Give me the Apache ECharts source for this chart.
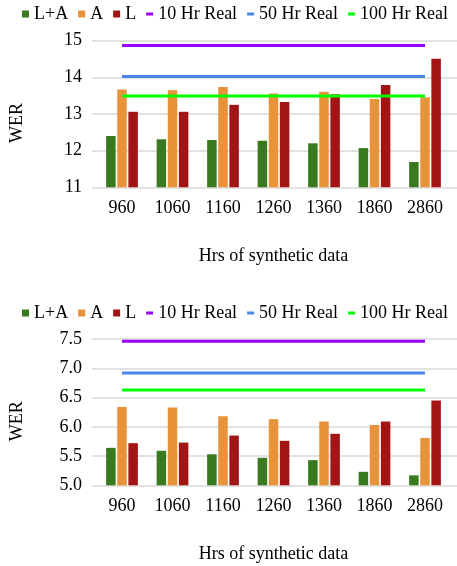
<!DOCTYPE html>
<html><head><meta charset="utf-8">
<script src="https://cdn.jsdelivr.net/npm/echarts@6/dist/echarts.min.js"></script>
<style>html,body{margin:0;padding:0;background:#fff}#c{width:457px;height:566px}</style>
</head><body><div id="c"></div>
<script>
const categories = ['960','1060','1160','1260','1360','1860','2860'];
// Top chart
const topLA = [12.40,12.31,12.29,12.27,12.20,12.07,11.69];
const topA  = [13.67,13.65,13.74,13.56,13.61,13.41,13.46];
const topL  = [13.06,13.06,13.25,13.33,13.54,13.79,14.51];
const top10 = 14.87, top50 = 14.02, top100 = 13.49;
const topTicks = [11,12,13,14,15];
// Bottom chart
const botLA = [5.64,5.59,5.53,5.47,5.43,5.23,5.17];
const botA  = [6.34,6.33,6.18,6.13,6.09,6.03,5.81];
const botL  = [5.72,5.73,5.85,5.76,5.88,6.09,6.45];
const bot10 = 7.46, bot50 = 6.92, bot100 = 6.63;
const botTicks = ['5.0','5.5','6.0','6.5','7.0','7.5'];

const FONT = 'Liberation Serif';
const C = {LA:'#3a7a1e', A:'#e8923a', L:'#a31515', r10:'#9b00ff', r50:'#4a86e8', r100:'#00ff00'};
const lineIcon = 'path://M0,2 L7,2 L7,5 L0,5 Z M0,0 L0,0 M0,7 L0,7';

function legendFor(top) {
  return {
    top: top, left: 17, itemWidth: 7, itemHeight: 7, itemGap: 10,
    textStyle: {fontFamily: FONT, fontSize: 18, color: '#000'},
    data: [
      {name:'L+A', icon:'rect'}, {name:'A', icon:'rect'}, {name:'L', icon:'rect'},
      {name:'10 Hr Real', icon: lineIcon}, {name:'50 Hr Real', icon: lineIcon}, {name:'100 Hr Real', icon: lineIcon}
    ]
  };
}

const layouts = [
  {top: 40.7, height: 146.6, ticks: topTicks.map(Number), fmt: v => String(v)},
  {top: 339, height: 146.3, ticks: botTicks.map(Number), fmt: v => v.toFixed(1)}
];

const grids = [], xAxes = [], yAxes = [], series = [];
layouts.forEach((L, i) => {
  const tk = L.ticks;
  grids.push({left: 89, right: 0, top: L.top, height: L.height});
  grids.push({left: 96.75, width: 353.5, top: L.top, height: L.height});
  xAxes.push({gridIndex: 2*i, type: 'value', show: false, min: 0, max: 1});
  xAxes.push({gridIndex: 2*i+1, type: 'category', data: categories,
    axisLine: {show: false}, axisTick: {show: false},
    axisLabel: {fontFamily: FONT, fontSize: 18, color: '#000', margin: 12},
    name: 'Hrs of synthetic data', nameLocation: 'middle', nameGap: 60,
    nameTextStyle: {fontFamily: FONT, fontSize: 18, color: '#000'}});
  yAxes.push({gridIndex: 2*i, type: 'value', min: tk[0], max: tk[tk.length-1], interval: tk[1]-tk[0],
    axisLine: {show: false}, axisTick: {show: false},
    axisLabel: {fontFamily: FONT, fontSize: 18, color: '#000', margin: 10, formatter: L.fmt},
    splitLine: {lineStyle: {color: '#d9d9d9', width: 1.5}},
    name: 'WER', nameLocation: 'middle', nameGap: 66, nameRotate: 90,
    nameTextStyle: {fontFamily: FONT, fontSize: 18, color: '#000', padding: [0, 18, 0, 0]}});
  yAxes.push({gridIndex: 2*i+1, type: 'value', min: tk[0], max: tk[tk.length-1], interval: tk[1]-tk[0], show: false, splitLine: {show: false}});
});

const sets = [
  {LA: topLA, A: topA, L: topL, r: [top10, top50, top100]},
  {LA: botLA, A: botA, L: botL, r: [bot10, bot50, bot100]}
];
sets.forEach((S, i) => {
  const xi = 2*i+1, yi = 2*i+1;
  [['L+A', S.LA, C.LA], ['A', S.A, C.A], ['L', S.L, C.L]].forEach(([n, d, c]) => {
    series.push({name: n, type: 'bar', xAxisIndex: xi, yAxisIndex: yi, data: d,
      barWidth: 9.5, barGap: '17%', itemStyle: {color: c}, silent: true, z: 2});
  });
  [['10 Hr Real', S.r[0], C.r10], ['50 Hr Real', S.r[1], C.r50], ['100 Hr Real', S.r[2], C.r100]].forEach(([n, v, c]) => {
    series.push({name: n, type: 'line', xAxisIndex: xi, yAxisIndex: yi, data: categories.map(() => v),
      symbol: 'none', lineStyle: {color: c, width: 3}, itemStyle: {color: c}, silent: true, z: 3});
  });
});

const chart = echarts.init(document.getElementById('c'), null, {renderer: 'canvas'});
chart.setOption({
  animation: false,
  legend: [legendFor(0), legendFor(299)],
  grid: grids, xAxis: xAxes, yAxis: yAxes, series: series
});
</script></body></html>
